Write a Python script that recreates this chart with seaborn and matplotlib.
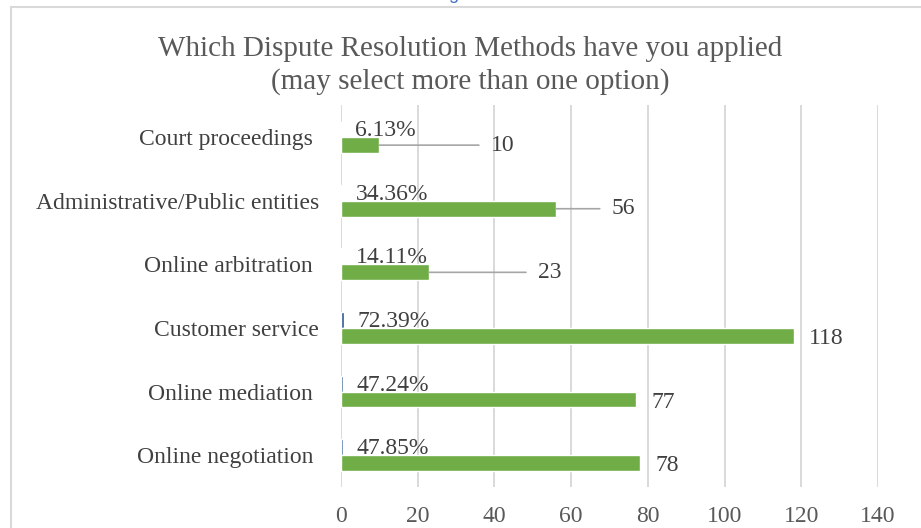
import matplotlib
matplotlib.use("Agg")
import matplotlib.pyplot as plt
from matplotlib.lines import Line2D
import seaborn as sns
import pandas as pd

# Survey answers (multiple choice allowed), 163 respondents
methods = [
    "Court proceedings ",
    "Administrative/Public entities",
    "Online arbitration ",
    "Customer service",
    "Online mediation ",
    "Online negotiation ",
]
counts = [10, 56, 23, 118, 77, 78]
shares = [0.0613, 0.3436, 0.1411, 0.7239, 0.4724, 0.4785]
x_ticks = [0, 20, 40, 60, 80, 100, 120, 140]

# Count labels that sit further out, joined to their bar by a leader line
# (offset in points from the bar end; 0 means a plain label)
leader_offsets = [80, 40, 78, 0, 0, 0]

df = pd.DataFrame({
    "method": methods * 2,
    "series": ["share"] * len(methods) + ["count"] * len(methods),
    "value": shares + counts,
})

sns.set_theme(style="white")
plt.rcParams["font.family"] = ["Liberation Serif", "DejaVu Serif"]

text_col = "#595959"
label_col = "#404040"
grid_col = "#D9D9D9"
green = "#70AD47"
navy = "#2F5597"
fs = 17

fig = plt.figure(figsize=(9.21, 5.28), dpi=100)
ax = fig.add_axes([0.3703, 0.0777, 0.5830, 0.7227])

sns.barplot(
    data=df, y="method", x="value", hue="series", orient="h",
    order=methods, hue_order=["share", "count"],
    palette=[navy, green], width=0.5, dodge=True, gap=0,
    legend=False, ax=ax, saturation=1,
)

ax.set_xlim(0, 140)
ax.set_xticks(x_ticks)
ax.set_xlabel("")
ax.set_ylabel("")
ax.grid(axis="x", color=grid_col, linewidth=1.4)
ax.set_axisbelow(True)
for s in ax.spines.values():
    s.set_visible(False)
ax.tick_params(axis="x", length=0, pad=14, labelsize=fs, labelcolor=text_col)
ax.tick_params(axis="y", length=0, pad=16, labelsize=fs, labelcolor=label_col)

share_bars, count_bars = ax.containers[0], ax.containers[1]

for bar, v in zip(share_bars, shares):
    y = bar.get_y() + bar.get_height() / 2
    ax.annotate(f"{v:.2%}", xy=(v, y), xytext=(10, -1), textcoords="offset points",
                ha="left", va="center", fontsize=fs, color=label_col)

for bar, n, off in zip(count_bars, counts, leader_offsets):
    y = bar.get_y() + bar.get_height() / 2
    if off:
        ax.annotate(str(n), xy=(n, y), xytext=(off, 0), textcoords="offset points",
                    ha="left", va="center", fontsize=fs, color=label_col,
                    arrowprops=dict(arrowstyle="-", color="#A6A6A6", lw=1.2,
                                    shrinkA=6, shrinkB=0))
    else:
        ax.annotate(str(n), xy=(n, y), xytext=(11, -2), textcoords="offset points",
                    ha="left", va="center", fontsize=fs, color=label_col)

fig.text(0.5103, 0.908, "Which Dispute Resolution Methods have you applied",
         ha="center", va="center", fontsize=21, color=text_col)
fig.text(0.5103, 0.846, "(may select more than one option)",
         ha="center", va="center", fontsize=21, color=text_col)

# Chart frame and clipped caption above it
fig.add_artist(Line2D([10.5 / 921, 10.5 / 921], [0, 1 - 6.5 / 528],
                      transform=fig.transFigure, color=grid_col, lw=1.5))
fig.add_artist(Line2D([10.5 / 921, 1], [1 - 6.5 / 528, 1 - 6.5 / 528],
                      transform=fig.transFigure, color=grid_col, lw=1.5))
fig.text(453 / 921, 1 + 1 / 528, "g", ha="center", va="baseline",
         fontsize=13, color="#4472C4", family=["Liberation Sans"])

fig.savefig("out.png", dpi=100)
